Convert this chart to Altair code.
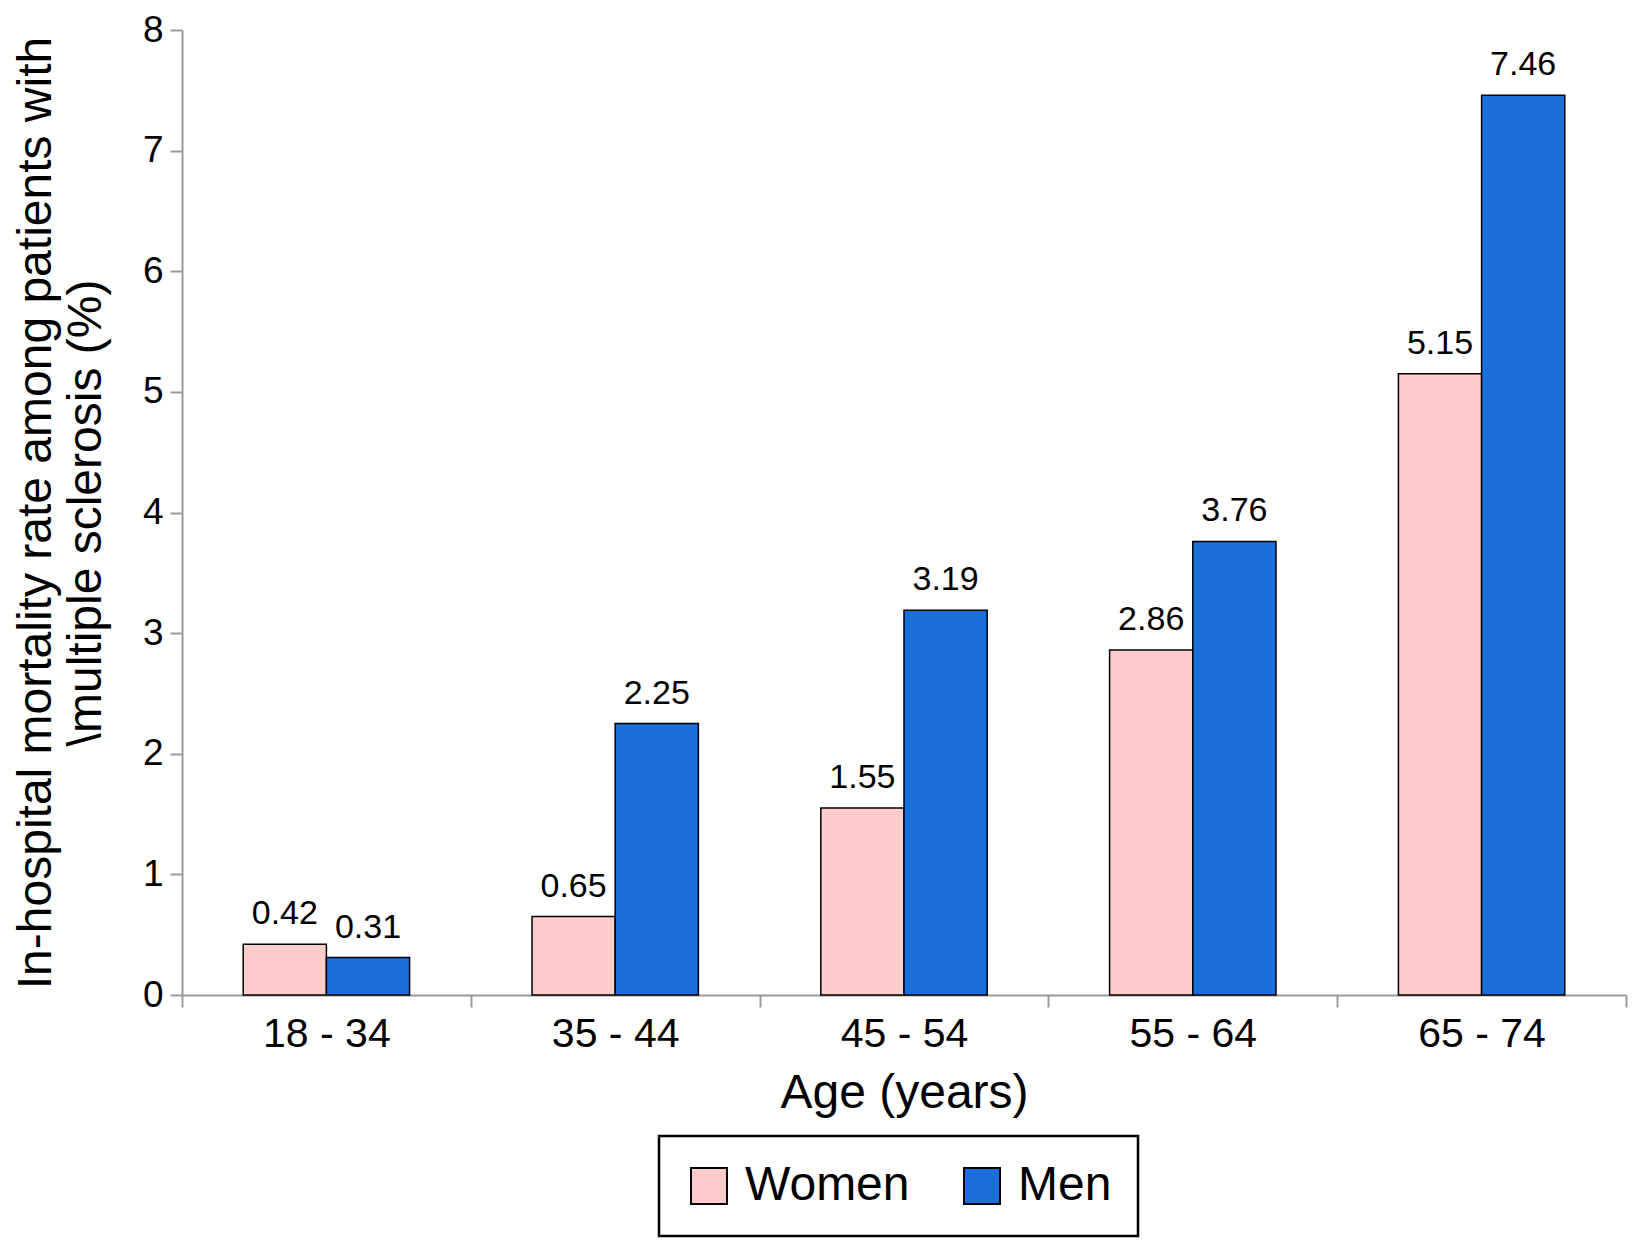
import altair as alt
import pandas as pd

ages = ["18 - 34", "35 - 44", "45 - 54", "55 - 64", "65 - 74"]
women = [0.42, 0.65, 1.55, 2.86, 5.15]
men = [0.31, 2.25, 3.19, 3.76, 7.46]
groups = ["Women", "Men"]
colors = ["#FFCCCC", "#1A6FDC"]
y_ticks = [0, 1, 2, 3, 4, 5, 6, 7, 8]

df = pd.DataFrame({
    "age": ages * 2,
    "sex": ["Women"] * len(ages) + ["Men"] * len(ages),
    "rate": women + men,
})

font = "Liberation Sans"
W, H = 1444, 965

x = alt.X("age:N", sort=ages, title="Age (years)",
          scale=alt.Scale(paddingInner=0, paddingOuter=0),
          axis=alt.Axis(labelAngle=0, tickBand="extent", tickSize=12,
                        labelPadding=7, labelFontSize=41, titleFontSize=48,
                        titlePadding=15))
x_off = alt.XOffset("sex:N", sort=groups,
                    scale=alt.Scale(paddingInner=0, paddingOuter=0.736))
y = alt.Y("rate:Q", title=["In-hospital mortality rate among patients with",
                           "\\multiple sclerosis (%)"],
          scale=alt.Scale(domain=[0, 8], nice=False),
          axis=alt.Axis(values=y_ticks, grid=False, tickSize=12, labelPadding=7,
                        labelFontSize=37, titleFontSize=48, titleLineHeight=50,
                        titlePadding=32))

bars = alt.Chart(df).mark_bar(stroke="black", strokeWidth=1.5).encode(
    x=x, xOffset=x_off, y=y,
    color=alt.Color("sex:N", sort=groups,
                    scale=alt.Scale(domain=groups, range=colors),
                    legend=alt.Legend(title=None, orient="none", direction="horizontal",
                                      columns=2, legendX=W / 2 - 245, legendY=1106,
                                      symbolType="square", symbolSize=1296,
                                      symbolStrokeColor="black", symbolStrokeWidth=2,
                                      labelFontSize=48, labelOffset=12, labelLimit=400,
                                      columnPadding=48, padding=26)),
)

labels = alt.Chart(df).mark_text(baseline="alphabetic", dy=-20, fontSize=34,
                                 font=font, color="black").encode(
    x=x, xOffset=x_off, y=y,
    text=alt.Text("rate:Q", format=".2f"),
)

chart = (alt.layer(bars, labels)
         .properties(width=W, height=H,
                     padding={"left": 4, "top": 3, "right": 2, "bottom": 2})
         .configure_view(stroke=None)
         .configure_axis(domainColor="#9a9a9a", tickColor="#9a9a9a",
                         domainWidth=2, tickWidth=2, labelFont=font, titleFont=font,
                         labelColor="black", titleColor="black",
                         titleFontWeight="normal")
         .configure_legend(labelFont=font, labelColor="black", strokeColor="black",
                           strokeWidth=2.5))

chart.save("out.html", embed_options={"renderer": "svg", "actions": False})
